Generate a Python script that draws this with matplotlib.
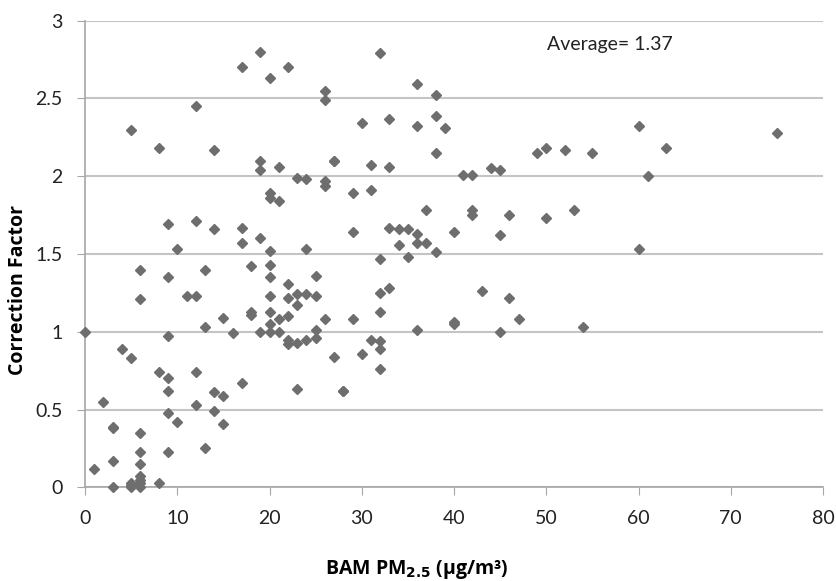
import matplotlib.pyplot as plt

plt.rcParams['font.family'] = ['Lato', 'DejaVu Sans']

# BAM PM2.5 (ug/m3) and correction factor
bam = [5, 8, 12, 14, 17, 19, 20, 22, 26, 26,
       19, 19, 21, 27, 23, 24, 26, 26, 20, 20, 21,
       9, 12, 14, 17, 19, 20, 24, 10, 17,
       6, 6, 9, 13, 11, 12, 18, 20, 20, 22, 25,
       20, 22, 23, 24, 25, 23, 18, 18, 20, 22, 21, 26,
       20, 20, 21, 19, 25, 25, 24, 22, 22, 23, 15, 13, 16,
       0, 9, 4, 5, 27, 8, 9, 12, 9, 17, 23, 28, 14, 15,
       2, 12, 9, 14, 10, 15, 3, 3, 6, 6, 9, 13, 3, 6, 1,
       6, 6, 5, 8, 3, 5, 6, 5, 6,
       32, 36, 38, 30, 33, 36, 38, 39, 27, 31, 33, 38,
       41, 42, 44, 45, 49, 50, 52, 55, 29, 31, 37, 42, 42,
       46, 50, 53, 29, 33, 34, 35, 36, 34, 36, 37, 40, 45,
       38, 32, 35, 32, 33, 32, 29, 36, 40, 40, 43, 46, 47,
       45, 54, 30, 31, 32, 32, 32, 28,
       60, 63, 75, 61, 60]
factor = [2.30, 2.18, 2.45, 2.17, 2.70, 2.80, 2.63, 2.70, 2.55, 2.49,
          2.10, 2.04, 2.06, 2.10, 1.99, 1.98, 1.97, 1.94, 1.89, 1.86, 1.84,
          1.69, 1.71, 1.66, 1.67, 1.60, 1.52, 1.53, 1.53, 1.57,
          1.40, 1.21, 1.35, 1.40, 1.23, 1.23, 1.42, 1.43, 1.35, 1.31, 1.36,
          1.23, 1.22, 1.24, 1.24, 1.23, 1.17, 1.13, 1.11, 1.13, 1.10, 1.08, 1.08,
          1.05, 1.00, 1.00, 1.00, 1.01, 0.96, 0.95, 0.95, 0.92, 0.93, 1.09, 1.03, 0.99,
          1.00, 0.97, 0.89, 0.83, 0.84, 0.74, 0.70, 0.74, 0.62, 0.67, 0.63, 0.62, 0.61, 0.59,
          0.55, 0.53, 0.48, 0.49, 0.42, 0.41, 0.39, 0.38, 0.35, 0.23, 0.23, 0.25, 0.17, 0.15, 0.12,
          0.07, 0.05, 0.03, 0.03, 0.00, 0.00, 0.00, 0.015, 0.03,
          2.79, 2.59, 2.52, 2.34, 2.37, 2.32, 2.39, 2.31, 2.10, 2.07, 2.06, 2.15,
          2.01, 2.01, 2.05, 2.04, 2.15, 2.18, 2.17, 2.15, 1.89, 1.91, 1.78, 1.78, 1.75,
          1.75, 1.73, 1.78, 1.64, 1.67, 1.66, 1.66, 1.63, 1.56, 1.57, 1.57, 1.64, 1.62,
          1.51, 1.47, 1.48, 1.25, 1.28, 1.13, 1.08, 1.01, 1.06, 1.05, 1.26, 1.22, 1.08,
          1.00, 1.03, 0.86, 0.95, 0.94, 0.89, 0.76, 0.62,
          2.32, 2.18, 2.28, 2.00, 1.53]

grey = '#6e6e6e'
axcol = '#a6a6a6'

fig = plt.figure(figsize=(8.37, 5.81), dpi=100)
ax = fig.add_axes([0.1016, 0.1613, 0.8817, 0.8031])

ax.plot(bam, factor, linestyle='none', marker='D', ms=5.6,
        color=grey, mec=grey, zorder=3, clip_on=False)

ax.set_xlim(0, 80)
ax.set_ylim(0, 3)
ax.set_xticks(range(0, 81, 10))
ax.set_yticks([0, 0.5, 1, 1.5, 2, 2.5, 3])
ax.set_yticklabels(['0', '0.5', '1', '1.5', '2', '2.5', '3'])
ax.yaxis.grid(True, color='#c4c4c4', lw=1.5)
ax.set_axisbelow(True)

for s in ['top', 'right']:
    ax.spines[s].set_visible(False)
for s in ['left', 'bottom']:
    ax.spines[s].set_color(axcol)
    ax.spines[s].set_linewidth(1.2)
ax.tick_params(axis='x', direction='out', length=6, color=axcol,
               labelsize=14, pad=10, labelcolor='#222222')
ax.tick_params(axis='y', direction='out', length=6, color=axcol,
               labelsize=14, pad=10, labelcolor='#222222')

lab_font = ['Open Sans', 'DejaVu Sans']
ax.set_xlabel('BAM PM$_{\\mathbf{2.5}}$ (\u00b5g/m\u00b3)', fontsize=14,
              fontweight='bold', family=lab_font, va='center')
ax.xaxis.set_label_coords(0.449, -0.177)
ax.set_ylabel('Correction Factor', fontsize=14, fontweight='bold',
              family=lab_font, va='center')
ax.yaxis.set_label_coords(-0.091, 0.423)

ax.text(50.1, 2.85, 'Average= 1.37', fontsize=14, va='center', ha='left',
        color='#222222')

fig.savefig('out.png', dpi=100)
